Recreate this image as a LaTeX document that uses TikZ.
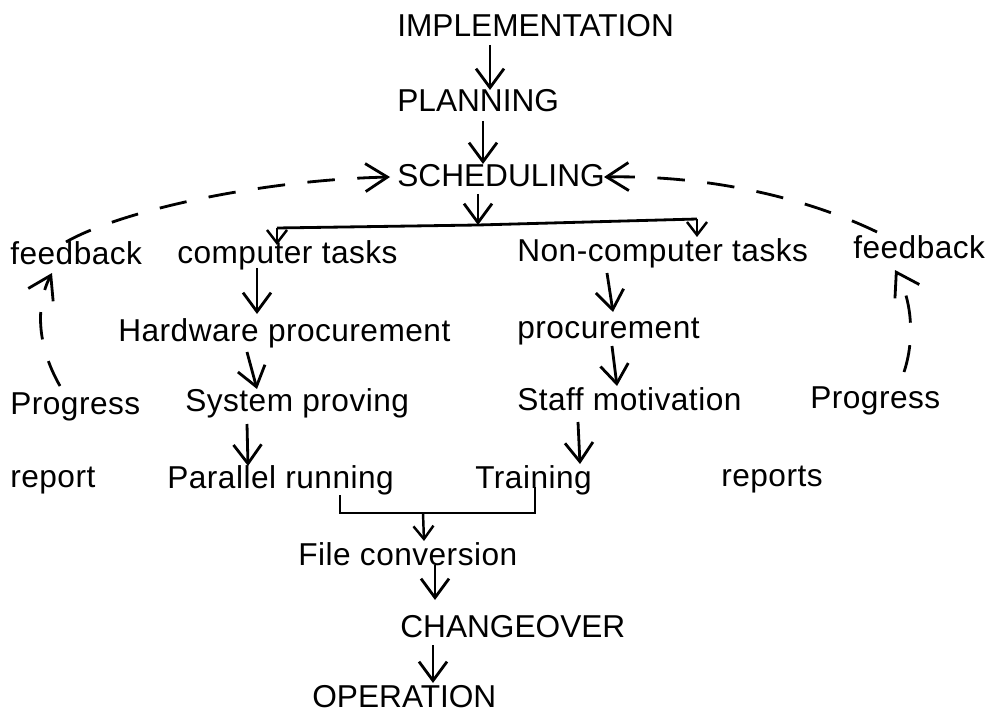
\documentclass[tikz,border=0pt]{standalone}
\usepackage{fontspec}
\setmainfont{Liberation Sans}[LetterSpace=1.5]
\newfontfamily\capsfont{Liberation Sans}
\usetikzlibrary{arrows.meta,calc}
\tikzset{
    txt/.style={
        inner sep=0pt,
        anchor=base west,
        font=\fontsize{18}{20}\selectfont
    },
    caps/.style={
        txt,
        font=\capsfont\fontsize{18}{20}\selectfont
    },
    flow/.style={
        -{Straight Barb[length=3.8mm,width=5.6mm]},
        line width=1.6pt
    },
    tick/.style={
        -{Straight Barb[length=2.6mm,width=4mm]},
        line width=1.4pt
    },
    bar/.style={
        line width=1.6pt
    },
    fbline/.style={
        -{Straight Barb[length=4.4mm,width=5.6mm]},
        line width=1.6pt,
        dash pattern=on 5.5mm off 4.5mm
    }
}

\begin{document}
\begin{tikzpicture}[x=0.2mm, y=-0.2mm]
    \useasboundingbox (0,0) rectangle (990,717);

    % Main chain
    \node[caps] (impl) at (397,37) {IMPLEMENTATION};
    \node[caps] (plan) at (397,112) {PLANNING};
    \node[caps] (sched) at (397,187) {SCHEDULING};

    % Task rows
    \node[txt] (feedL) at (10,264) {feedback};
    \node[txt] (comp) at (177,263) {computer tasks};
    \node[txt] (noncomp) at (517,261) {Non-computer tasks};
    \node[txt] (feedR) at (853,259) {feedback};

    \node[txt] (hard) at (118,341) {Hardware procurement};
    \node[txt] (proc) at (517,338) {procurement};

    \node[txt] (progL) at (10,414) {Progress};
    \node[txt] (sysp) at (185,411) {System proving};
    \node[txt] (staff) at (517,410) {Staff motivation};
    \node[txt] (progR) at (810,408) {Progress};

    \node[txt] (repL) at (10,487) {report};
    \node[txt] (par) at (167,488) {Parallel running};
    \node[txt] (train) at (475,488) {Training};
    \node[txt] (repR) at (721,486) {reports};

    % Changeover
    \node[txt] (filec) at (298,565) {File conversion};
    \node[caps] (change) at (400,637) {CHANGEOVER};
    \node[caps] (oper) at (312,707) {OPERATION};

    % Junctions
    \coordinate (jtop) at ($(sched.base west)+(81,38)$);
    \coordinate (jL) at ($(comp.base west)+(100,-35)$);
    \coordinate (jR) at ($(noncomp.base west)+(180,-42)$);
    \coordinate (mid) at ($(par.base west)+(256,25)$);

    % Arrows
    \draw[flow] ($(impl.base west)+(93,8)$) -- ($(plan.base west)+(93,-22)$);
    \draw[flow] ($(plan.base west)+(86,9)$) -- ($(sched.base west)+(86,-23)$);
    \draw[flow] ($(sched.base west)+(81,7)$) -- (jtop);
    \draw[bar] (jL) -- (jtop) -- (jR);
    \draw[tick] (jL) -- ($(comp.base west)+(100,-18)$);
    \draw[tick] (jR) -- ($(noncomp.base west)+(180,-24)$);

    \draw[flow] ($(comp.base west)+(80,5)$) -- ($(hard.base west)+(139,-27)$);
    \draw[flow] ($(hard.base west)+(129,11)$) -- ($(sysp.base west)+(72,-22)$);
    \draw[flow] ($(sysp.base west)+(62,13)$) -- ($(par.base west)+(81,-22)$);

    \draw[flow] ($(noncomp.base west)+(90,12)$) -- ($(proc.base west)+(96,-26)$);
    \draw[flow] ($(proc.base west)+(95,8)$) -- ($(staff.base west)+(100,-24)$);
    \draw[flow] ($(staff.base west)+(61,12)$) -- ($(train.base west)+(105,-24)$);

    \draw[bar] ($(par.base west)+(173,7)$) |- (mid) -| ($(train.base west)+(60,-1)$);
    \draw[tick] (mid) -- ($(filec.base west)+(126,-24)$);
    \draw[flow] ($(filec.base west)+(137,0)$) -- ($(change.base west)+(35,-37)$);
    \draw[flow] ($(change.base west)+(33,8)$) -- ($(oper.base west)+(121,-24)$);

    % Feedback loops
    \draw[fbline] ($(progL.base west)+(50,-28)$)
        .. controls ($(progL.base west)+(26,-70)$) and ($(feedL.base west)+(26,40)$)
        .. ($(feedL.base west)+(42,9)$);
    \draw[fbline] ($(feedL.base west)+(56,-22)$)
        .. controls ($(feedL.base west)+(110,-53)$) and ($(sched.base west)+(-137,-7)$)
        .. ($(sched.base west)+(-7,-10)$);
    \draw[fbline] ($(progR.base west)+(94,-36)$)
        .. controls ($(progR.base west)+(105,-69)$) and ($(feedR.base west)+(59,41)$)
        .. ($(feedR.base west)+(42,11)$);
    \draw[fbline] ($(feedR.base west)+(24,-27)$)
        .. controls ($(feedR.base west)+(-40,-58)$) and ($(sched.base west)+(320,-12)$)
        .. ($(sched.base west)+(207,-10)$);
\end{tikzpicture}
\end{document}
